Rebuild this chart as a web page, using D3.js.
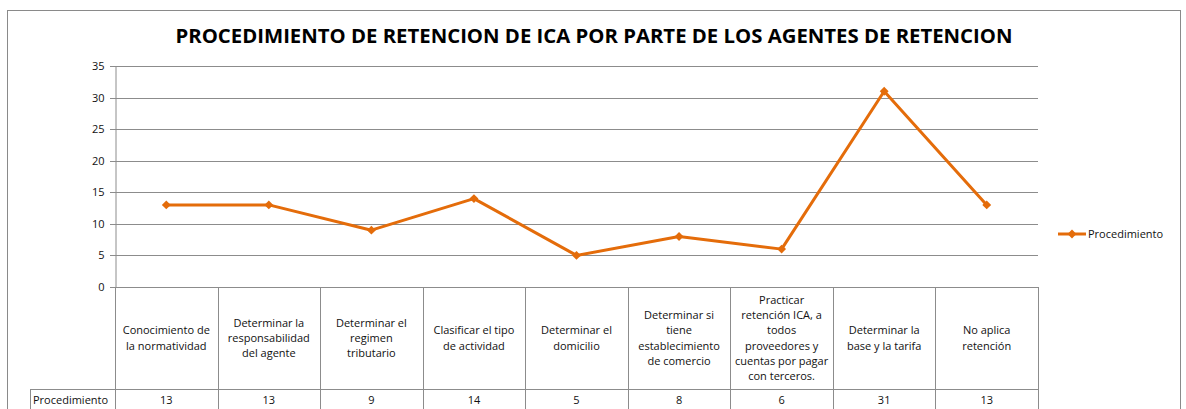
<!DOCTYPE html>
<html>
<head>
<meta charset="utf-8">
<script src="https://cdn.jsdelivr.net/npm/d3@7"></script>
<style>
  body { margin: 0; background: #fff; }
  text { font-family: "Open Sans", "Liberation Sans", sans-serif; fill: #111; }
</style>
</head>
<body>
<div id="wrapper"></div>
<script>
// data
const seriesName = "Procedimiento";
const categories = [
  ["Conocimiento de", "la normatividad"],
  ["Determinar la", "responsabilidad", "del agente"],
  ["Determinar el", "regimen", "tributario"],
  ["Clasificar el tipo", "de actividad"],
  ["Determinar el", "domicilio"],
  ["Determinar si", "tiene", "establecimiento", "de comercio"],
  ["Practicar", "retención ICA, a", "todos", "proveedores y", "cuentas por pagar", "con terceros."],
  ["Determinar la", "base y la tarifa"],
  ["No aplica", "retención"],
];
const values = [13, 13, 9, 14, 5, 8, 6, 31, 13];
const yTicks = [0, 5, 10, 15, 20, 25, 30, 35];
const title = "PROCEDIMIENTO DE RETENCION DE ICA POR PARTE DE LOS AGENTES DE RETENCION";

function drawChart() {
  const width = 1186;
  const height = 409;
  const margin = { top: 66, left: 115, right: 148, bottom: 122 };
  const plotRight = width - margin.right;
  const plotBottom = height - margin.bottom;
  const headerBottom = 389;
  const orange = "#E46C0A";
  const grid = "#8c8c8c";

  const svg = d3.select("#wrapper").append("svg")
    .attr("width", width)
    .attr("height", height);

  // outer chart frame
  svg.append("rect")
    .attr("x", 7.5).attr("y", 10.5)
    .attr("width", 1173).attr("height", 420)
    .attr("fill", "none").attr("stroke", "#8a8a8a");

  // title
  svg.append("text")
    .attr("x", 594).attr("y", 43)
    .attr("text-anchor", "middle")
    .attr("font-size", 20)
    .attr("font-weight", 700)
    .attr("textLength", 837)
    .attr("lengthAdjust", "spacingAndGlyphs")
    .style("fill", "#000")
    .text(title);

  const x = d3.scaleBand()
    .domain(d3.range(categories.length))
    .range([margin.left, plotRight]);

  const y = d3.scaleLinear()
    .domain([0, 35])
    .range([plotBottom, margin.top]);

  // gridlines
  svg.append("g")
    .selectAll("line")
    .data(yTicks)
    .join("line")
    .attr("x1", margin.left - 5).attr("x2", plotRight)
    .attr("y1", (d) => Math.round(y(d)) + 0.5)
    .attr("y2", (d) => Math.round(y(d)) + 0.5)
    .attr("stroke", grid);

  // y axis
  const yAxis = svg.append("g")
    .attr("transform", `translate(${margin.left + 0.5},0)`)
    .call(d3.axisLeft(y).tickValues(yTicks).tickSize(0).tickPadding(11));
  yAxis.select(".domain").attr("stroke", grid);
  yAxis.selectAll("text")
    .attr("font-size", 11)
    .attr("font-family", "Open Sans, sans-serif")
    .style("fill", "#111");

  // data table below the plot
  const table = svg.append("g");
  const colEdges = d3.range(categories.length + 1).map((i) =>
    i < categories.length ? x(i) : x(i - 1) + x.bandwidth()
  );
  table.selectAll("line.col")
    .data(colEdges)
    .join("line")
    .attr("class", "col")
    .attr("x1", (d) => Math.round(d) + 0.5)
    .attr("x2", (d) => Math.round(d) + 0.5)
    .attr("y1", plotBottom)
    .attr("y2", height)
    .attr("stroke", grid);
  table.append("line")
    .attr("x1", 30).attr("x2", plotRight + 0.5)
    .attr("y1", headerBottom + 0.5).attr("y2", headerBottom + 0.5)
    .attr("stroke", grid);
  table.append("line")
    .attr("x1", 30.5).attr("x2", 30.5)
    .attr("y1", headerBottom).attr("y2", height)
    .attr("stroke", grid);

  // category labels
  const lineH = 15.3;
  const midY = (plotBottom + headerBottom) / 2 + 4;
  table.selectAll("text.cat")
    .data(categories)
    .join("text")
    .attr("class", "cat")
    .attr("text-anchor", "middle")
    .attr("font-size", 11)
    .each(function (d, i) {
      const t = d3.select(this);
      const y0 = midY - ((d.length - 1) * lineH) / 2;
      d.forEach((line, k) => {
        t.append("tspan")
          .attr("x", x(i) + x.bandwidth() / 2)
          .attr("y", y0 + k * lineH)
          .text(line);
      });
    });

  // value row
  table.append("text")
    .attr("x", 33).attr("y", 404)
    .attr("font-size", 11)
    .text(seriesName);
  table.selectAll("text.val")
    .data(values)
    .join("text")
    .attr("class", "val")
    .attr("x", (d, i) => x(i) + x.bandwidth() / 2)
    .attr("y", 404)
    .attr("text-anchor", "middle")
    .attr("font-size", 11)
    .text((d) => d);

  // series line
  const line = d3.line()
    .x((d, i) => x(i) + x.bandwidth() / 2)
    .y((d) => y(d));

  svg.append("path")
    .datum(values)
    .attr("d", line)
    .attr("fill", "none")
    .attr("stroke", orange)
    .attr("stroke-width", 3)
    .attr("stroke-linejoin", "round");

  const diamond = d3.symbol().type(d3.symbolDiamond2).size(50);
  svg.append("g")
    .selectAll("path")
    .data(values)
    .join("path")
    .attr("transform", (d, i) => `translate(${x(i) + x.bandwidth() / 2},${y(d)})`)
    .attr("d", diamond)
    .attr("fill", orange);

  // legend
  const legend = svg.append("g").attr("transform", "translate(1058,234)");
  legend.append("line")
    .attr("x1", 0).attr("x2", 28)
    .attr("stroke", orange).attr("stroke-width", 3);
  legend.append("path")
    .attr("transform", "translate(14,0)")
    .attr("d", diamond)
    .attr("fill", orange);
  legend.append("text")
    .attr("x", 30).attr("y", 4)
    .attr("font-size", 11)
    .text(seriesName);
}
drawChart();
</script>
</body>
</html>
